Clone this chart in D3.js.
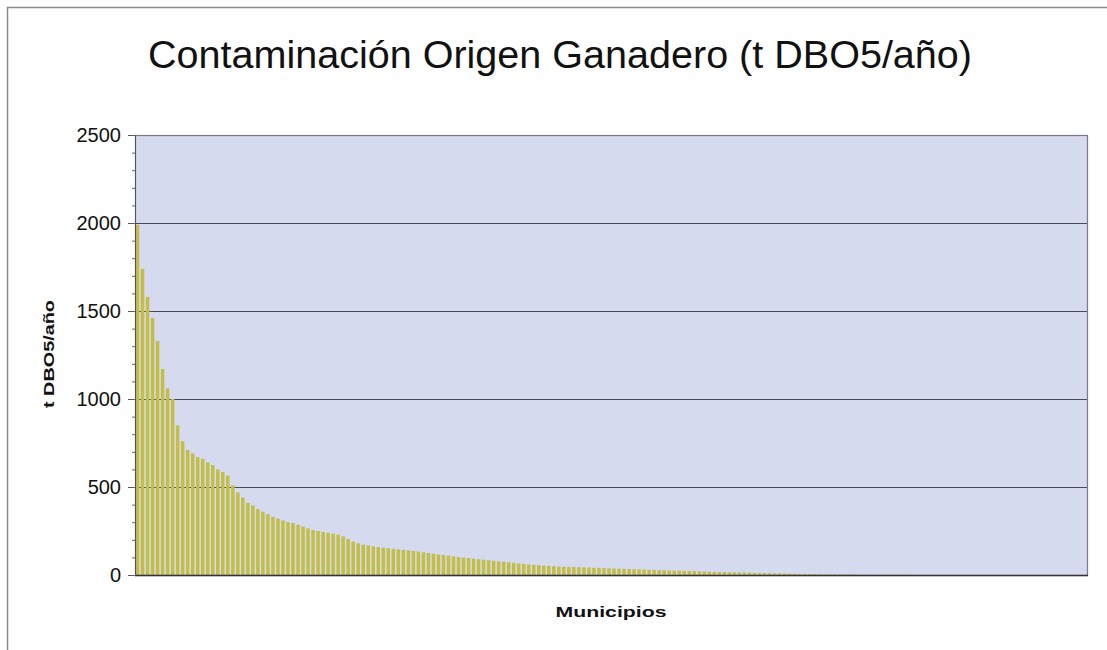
<!DOCTYPE html>
<html>
<head>
<meta charset="utf-8">
<script src="https://cdn.jsdelivr.net/npm/d3@7"></script>
<style>
  body { margin: 0; background: #fff; }
  text { font-family: "Liberation Sans", Arial, sans-serif; }
</style>
</head>
<body>
<div id="chart"></div>
<script>
var W = 1107, H = 650;
var margin = { top: 135, right: 19, bottom: 75, left: 135 },
    width = W - margin.left - margin.right,
    height = H - margin.top - margin.bottom;

// t DBO5/año per municipio, sorted descending
var values = [
  1990, 1740, 1580, 1460, 1330, 1170, 1060, 1000, 850, 760,
  710, 690, 670, 660, 640, 625, 600, 585, 565, 510,
  470, 440, 410, 395, 375, 360, 345, 330, 320, 310,
  300, 295, 285, 275, 265, 255, 250, 245, 240, 235,
  230, 220, 205, 190, 180, 172, 168, 163, 158, 155,
  152, 149, 146, 143, 140, 137, 133, 129, 125, 121,
  117, 114, 110, 106, 102, 99, 96, 93, 90, 87,
  84, 81, 78, 75, 72, 69, 66, 63, 60, 58,
  56, 54, 52, 50, 48, 47, 46, 45, 44, 43,
  42, 41, 40, 39, 38, 37, 36, 35, 34, 33,
  32, 31, 30, 29, 28, 27, 26, 25, 25, 24,
  23, 22, 21, 20, 19, 18, 17, 17, 16, 15,
  14, 14, 13, 12, 11, 11, 10, 9, 9, 8,
  7, 7, 6, 6, 5, 5, 4, 4, 3, 3,
  3, 2, 2, 2, 1, 1, 1, 1, 1, 0.5,
  0.5, 0.5, 0.5, 0.5, 0, 0, 0, 0, 0, 0,
  0, 0, 0, 0, 0, 0, 0, 0, 0, 0,
  0, 0, 0, 0, 0, 0, 0, 0, 0, 0,
  0, 0, 0, 0, 0, 0, 0, 0, 0, 0
];
var municipios = values.map(function (d, i) { return "M" + (i + 1); });
var yTicks = [0, 500, 1000, 1500, 2000, 2500];

var titleText = "Contaminación Origen Ganadero (t DBO5/año)";
var yTitle = "t DBO5/año";
var xTitle = "Municipios";

var root = d3.select("#chart").append("svg")
    .attr("width", W)
    .attr("height", H);

// outer chart frame
root.append("rect")
    .attr("x", 7.5).attr("y", 7.5)
    .attr("width", 1200).attr("height", 800)
    .attr("fill", "#fff")
    .attr("stroke", "#8a8a8a")
    .attr("stroke-width", 1.5);

var svg = root.append("g")
    .attr("transform", "translate(" + margin.left + "," + margin.top + ")");

var x = d3.scaleBand()
    .domain(municipios)
    .range([0, width])
    .paddingInner(0.3)
    .paddingOuter(0.15);

var y = d3.scaleLinear()
    .domain([0, 2500])
    .range([height, 0]);

// plot background
svg.append("rect")
    .attr("width", width)
    .attr("height", height)
    .attr("fill", "#d6daee");

// gridlines
svg.append("g")
    .selectAll("line")
    .data(yTicks.slice(1, -1))
    .enter()
    .append("line")
    .attr("x1", 0).attr("x2", width)
    .attr("y1", function (d) { return Math.round(y(d)) + 0.5; })
    .attr("y2", function (d) { return Math.round(y(d)) + 0.5; })
    .attr("stroke", "#4a4a55")
    .attr("stroke-width", 1);

// bars
svg.append("g")
    .selectAll("rect")
    .data(values)
    .enter()
    .append("rect")
    .attr("x", function (d, i) { return x(municipios[i]); })
    .attr("width", x.bandwidth())
    .attr("y", function (d) { return y(d); })
    .attr("height", function (d) { return height - y(d); })
    .attr("fill", "#c2be48");

// plot border
svg.append("rect")
    .attr("x", 0.5).attr("y", 0.5)
    .attr("width", width - 1)
    .attr("height", height)
    .attr("fill", "none")
    .attr("stroke", "#7a7a85")
    .attr("stroke-width", 1.2);

// bottom axis line
svg.append("line")
    .attr("x1", 0).attr("x2", width)
    .attr("y1", height + 0.5).attr("y2", height + 0.5)
    .attr("stroke", "#333")
    .attr("stroke-width", 1.5);

// left axis
var yAxis = svg.append("g")
    .call(d3.axisLeft(y).tickValues(yTicks).tickFormat(d3.format("d")).tickSize(7).tickPadding(7));
yAxis.select(".domain").attr("stroke", "#555");
yAxis.selectAll(".tick line").attr("stroke", "#555");
yAxis.selectAll(".tick text")
    .attr("fill", "#111")
    .style("font-size", "20px")
    .style("font-family", "'Liberation Sans', Arial, sans-serif");

// minor ticks every 100
svg.append("g")
    .call(d3.axisLeft(y).tickValues(d3.range(0, 2501, 100)).tickSize(3).tickFormat(""))
    .call(function (g) { g.select(".domain").remove(); })
    .selectAll(".tick line").attr("stroke", "#666");

// title
root.append("text")
    .attr("x", 560)
    .attr("y", 68)
    .attr("text-anchor", "middle")
    .attr("textLength", 824)
    .attr("lengthAdjust", "spacingAndGlyphs")
    .style("font-size", "38px")
    .attr("fill", "#111")
    .text(titleText);

// axis titles
root.append("text")
    .attr("transform", "translate(54,354) rotate(-90)")
    .attr("text-anchor", "middle")
    .attr("textLength", 108)
    .attr("lengthAdjust", "spacingAndGlyphs")
    .style("font-size", "15px")
    .style("font-weight", "bold")
    .attr("fill", "#111")
    .text(yTitle);

root.append("text")
    .attr("x", 611)
    .attr("y", 617)
    .attr("text-anchor", "middle")
    .attr("textLength", 111)
    .attr("lengthAdjust", "spacingAndGlyphs")
    .style("font-size", "15px")
    .style("font-weight", "bold")
    .attr("fill", "#111")
    .text(xTitle);
</script>
</body>
</html>
